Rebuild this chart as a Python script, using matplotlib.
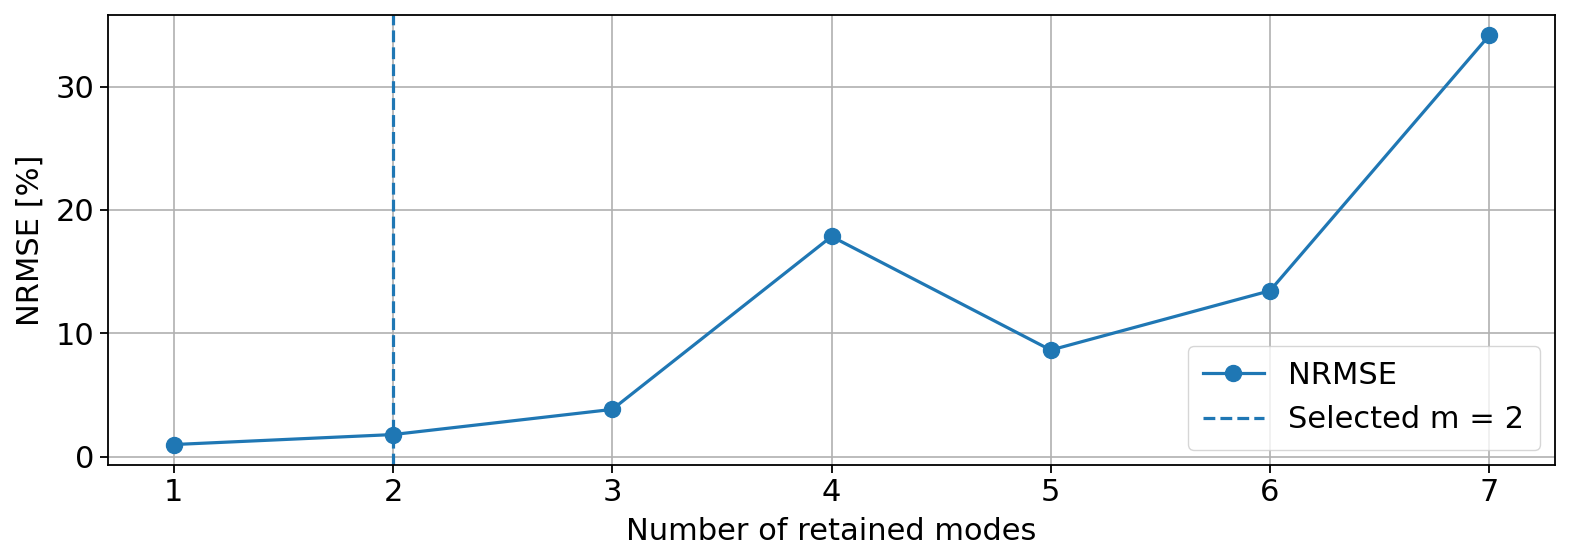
import matplotlib
matplotlib.use("Agg")
import matplotlib.pyplot as plt
from matplotlib.ticker import MultipleLocator

# data
modes = [1, 2, 3, 4, 5, 6, 7]
nrmse = [0.98, 1.79, 3.83, 17.85, 8.64, 13.45, 34.15]
selected_m = 2

plt.rcParams['font.size'] = 22

fig = plt.figure(figsize=(15.69, 5.55), dpi=100)
ax = fig.add_axes([108 / 1569, 90 / 555, 1447 / 1569, 450 / 555])

ax.plot(modes, nrmse, marker='o', markersize=11.5, linewidth=2.3, label='NRMSE')
ax.axvline(selected_m, linestyle='--', linewidth=2.3, label='Selected m = %d' % selected_m)

ax.set_xlabel('Number of retained modes', labelpad=7)
ax.set_ylabel('NRMSE [%]', labelpad=8)
ax.set_xticks(modes)
ax.yaxis.set_major_locator(MultipleLocator(10))
ax.grid(True, linewidth=1.2)
ax.tick_params(width=1.3, length=6)
for s in ax.spines.values():
    s.set_linewidth(1.3)
ax.legend(loc='lower right', borderpad=0.5)

fig.savefig('out.png', dpi=100)
